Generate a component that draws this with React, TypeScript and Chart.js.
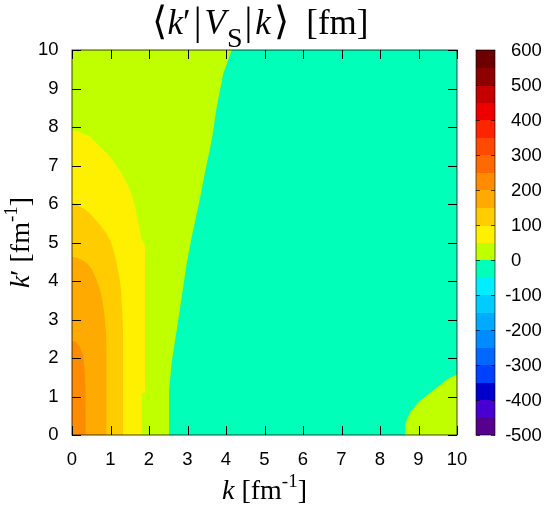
import React, { useEffect, useRef } from 'react';
import { Chart, registerables } from 'chart.js';

Chart.register(...registerables);

// ---- axes ----
const K_TICKS = [0, 1, 2, 3, 4, 5, 6, 7, 8, 9, 10];
const CB_TICKS = [-500, -400, -300, -200, -100, 0, 100, 200, 300, 400, 500, 600];

// ---- colour bar: band edges (fm) and colours, bottom to top ----
const CB_LEVELS = [-500, -450, -400, -350, -300, -250, -200, -150, -100, -50, 0, 50, 100, 150, 200, 250, 300, 350, 400, 450, 500, 550, 600];
const CB_COLORS = [
  '#58008e', '#4800d2', '#0000cc', '#0040ff', '#0068ff', '#008cff', '#00aaff', '#00ccff', '#00eeff', '#00ffb8',
  '#c0ff00', '#fff000', '#ffcc00', '#ffaa00', '#ff8c00', '#ff6a00', '#ff4800', '#ff2400', '#ee0000', '#c40000', '#8e0000', '#6c0000',
];

// ---- contour regions of <k'|V_S|k>: edge points (k, k'), filled down to k' = 0 ----
// whole map background: 0..50 band
const FULL_K = [0, 10];
const FULL_KP = [10, 10];
// -50..0 band (right side)
const AQUA_K = [2.52, 2.52, 2.59, 2.72, 2.85, 2.98, 3.12, 3.28, 3.45, 3.63, 3.76, 3.93, 4.15, 10];
const AQUA_KP = [0, 1.15, 1.9, 2.73, 3.59, 4.46, 5.2, 5.93, 6.8, 7.66, 8.53, 9.39, 10, 10];
// 0..50 band, lower right corner
const CORNER_K = [8.65, 8.65, 8.78, 9.0, 9.26, 9.39, 9.77, 10];
const CORNER_KP = [0, 0.28, 0.58, 0.86, 1.06, 1.17, 1.46, 1.58];
// 50..100 band
const Y50_K = [0, 0.15, 0.47, 0.73, 0.99, 1.29, 1.51, 1.64, 1.72, 1.8, 1.9, 1.9];
const Y50_KP = [7.9, 7.88, 7.75, 7.49, 7.23, 6.8, 6.36, 5.93, 5.5, 5.1, 4.9, 0];
// 0..50 band notch at the bottom of the 50..100 band
const NOTCH_K = [1.81, 1.9];
const NOTCH_KP = [1.1, 1.1];
// 100..150 band
const Y100_K = [0, 0.15, 0.35, 0.5, 0.68, 0.85, 0.99, 1.08, 1.16, 1.23, 1.27, 1.31, 1.33, 1.33];
const Y100_KP = [6.05, 5.97, 5.85, 5.72, 5.52, 5.3, 5.06, 4.8, 4.46, 4.1, 3.77, 3.16, 2.5, 0];
// 150..200 band
const Y150_K = [0, 0.15, 0.3, 0.4, 0.52, 0.64, 0.72, 0.78, 0.84, 0.88, 0.9, 0.9];
const Y150_KP = [4.63, 4.6, 4.52, 4.45, 4.3, 4.03, 3.8, 3.55, 3.15, 2.7, 2.2, 0];
// 200..250 band
const Y200_K = [0, 0.1, 0.2, 0.28, 0.32, 0.35, 0.36, 0.36];
const Y200_KP = [2.45, 2.42, 2.3, 2.1, 1.8, 1.2, 0.6, 0];

const REGIONS: { k: number[]; kp: number[]; level: number }[] = [
  { k: FULL_K, kp: FULL_KP, level: 25 },
  { k: AQUA_K, kp: AQUA_KP, level: -25 },
  { k: CORNER_K, kp: CORNER_KP, level: 25 },
  { k: Y50_K, kp: Y50_KP, level: 75 },
  { k: NOTCH_K, kp: NOTCH_KP, level: 25 },
  { k: Y100_K, kp: Y100_KP, level: 125 },
  { k: Y150_K, kp: Y150_KP, level: 175 },
  { k: Y200_K, kp: Y200_KP, level: 225 },
];

function colorFor(v: number): string {
  for (let i = 0; i < CB_COLORS.length; i++) {
    if (v >= CB_LEVELS[i] && v < CB_LEVELS[i + 1]) return CB_COLORS[i];
  }
  return CB_COLORS[CB_COLORS.length - 1];
}

const SERIF = '"Liberation Serif", "Times New Roman", serif';
const SANS = '"Liberation Sans", Arial, sans-serif';

type Piece = { t: string; font: string; dy?: number; gap?: number };

function drawPieces(ctx: CanvasRenderingContext2D, pieces: Piece[], x: number, y: number, align: 'left' | 'center') {
  let total = 0;
  const widths = pieces.map((p) => {
    ctx.font = p.font;
    const w = ctx.measureText(p.t).width + (p.gap || 0);
    total += w;
    return w;
  });
  let cx = align === 'center' ? x - total / 2 : x;
  ctx.textAlign = 'left';
  ctx.textBaseline = 'alphabetic';
  pieces.forEach((p, i) => {
    ctx.font = p.font;
    ctx.fillText(p.t, cx, y + (p.dy || 0));
    cx += widths[i];
  });
}

const framePlugin = {
  id: 'frame',
  afterDatasetsDraw(chart: any) {
    const { ctx, chartArea: a, scales } = chart;
    const xs = scales.x;
    const ys = scales.y;
    const cb = scales.cb;
    ctx.save();
    // inward tick marks on all four sides
    ctx.strokeStyle = '#000';
    ctx.lineWidth = 1;
    ctx.beginPath();
    for (const v of K_TICKS) {
      const px = Math.round(xs.getPixelForValue(v)) + 0.5;
      ctx.moveTo(px, a.bottom);
      ctx.lineTo(px, a.bottom - 9);
      ctx.moveTo(px, a.top);
      ctx.lineTo(px, a.top + 9);
      const py = Math.round(ys.getPixelForValue(v)) + 0.5;
      ctx.moveTo(a.left, py);
      ctx.lineTo(a.left + 9, py);
      ctx.moveTo(a.right, py);
      ctx.lineTo(a.right - 9, py);
    }
    ctx.stroke();
    ctx.strokeStyle = 'rgba(0,0,0,0.75)';
    ctx.strokeRect(a.left, a.top, a.right - a.left, a.bottom - a.top);

    // colour bar
    const cbL = a.right + 19;
    const cbR = a.right + 38;
    for (let i = 0; i < CB_COLORS.length; i++) {
      const y1 = cb.getPixelForValue(CB_LEVELS[i]);
      const y2 = cb.getPixelForValue(CB_LEVELS[i + 1]);
      ctx.fillStyle = CB_COLORS[i];
      ctx.fillRect(cbL, Math.floor(y2), cbR - cbL, Math.ceil(y1) - Math.floor(y2));
    }
    ctx.strokeStyle = 'rgba(0,0,0,0.7)';
    ctx.beginPath();
    for (const v of CB_TICKS) {
      const py = Math.round(cb.getPixelForValue(v)) + 0.5;
      ctx.moveTo(cbL, py);
      ctx.lineTo(cbL + 4, py);
      ctx.moveTo(cbR, py);
      ctx.lineTo(cbR - 4, py);
    }
    ctx.stroke();
    ctx.strokeStyle = 'rgba(0,0,0,0.6)';
    ctx.strokeRect(cbL, a.top, cbR - cbL, a.bottom - a.top);

    // colour bar labels (digits left-aligned, minus sign hanging)
    ctx.fillStyle = '#000';
    ctx.font = `18.5px ${SANS}`;
    ctx.textBaseline = 'middle';
    const lx = a.right + 54;
    for (const v of CB_TICKS) {
      const py = cb.getPixelForValue(v) + 1;
      ctx.textAlign = 'left';
      ctx.fillText(String(Math.abs(v)), lx, py);
      if (v < 0) {
        ctx.textAlign = 'right';
        ctx.fillText('-', lx + 0.5, py);
      }
    }
    ctx.restore();
  },
  afterDraw(chart: any) {
    const { ctx, chartArea: a } = chart;
    ctx.save();
    ctx.fillStyle = '#000';
    const F = 35;
    const n = `${F}px ${SERIF}`;
    const big = `39px ${SERIF}`;
    const it = `italic ${F}px ${SERIF}`;
    drawPieces(
      ctx,
      [
        { t: '⟨', font: big, gap: 1 },
        { t: 'k', font: it },
        { t: '′', font: n, gap: 3 },
        { t: '|', font: big, gap: 3 },
        { t: 'V', font: it, gap: 1 },
        { t: 'S', font: `28px ${SERIF}`, dy: 13, gap: 2 },
        { t: '|', font: big, gap: 3 },
        { t: 'k', font: it, gap: 3 },
        { t: '⟩', font: big },
        { t: '  [fm]', font: n },
      ],
      260,
      34,
      'center'
    );
    // x axis title
    const A = 28;
    const an = `${A}px ${SERIF}`;
    const ai = `italic ${A}px ${SERIF}`;
    const sup = `19px ${SERIF}`;
    drawPieces(
      ctx,
      [
        { t: 'k', font: ai },
        { t: ' [fm', font: an },
        { t: '-1', font: sup, dy: -12 },
        { t: ']', font: an },
      ],
      (a.left + a.right) / 2,
      499,
      'center'
    );
    // y axis title
    ctx.translate(29, (a.top + a.bottom) / 2);
    ctx.rotate(-Math.PI / 2);
    drawPieces(
      ctx,
      [
        { t: 'k', font: ai },
        { t: '′', font: an },
        { t: ' [fm', font: an },
        { t: '-1', font: sup, dy: -12 },
        { t: ']', font: an },
      ],
      0,
      0,
      'center'
    );
    ctx.restore();
  },
};

export default function App() {
  const ref = useRef<HTMLCanvasElement>(null);
  useEffect(() => {
    const canvas = ref.current;
    if (!canvas) return;
    const datasets = REGIONS.map((r, i) => ({
      data: r.k.map((k, j) => ({ x: k, y: r.kp[j] })),
      showLine: true,
      fill: 'origin',
      backgroundColor: colorFor(r.level),
      borderColor: 'rgba(0,0,0,0)',
      borderWidth: 0,
      pointRadius: 0,
      pointHoverRadius: 0,
      order: REGIONS.length - i,
    }));
    const tickFont = { family: SANS, size: 18.5 };
    const chart = new Chart(canvas, {
      type: 'scatter',
      data: { datasets } as any,
      options: {
        animation: false,
        responsive: false,
        maintainAspectRatio: false,
        devicePixelRatio: 1,
        events: [],
        layout: { padding: { top: 50, left: 0, right: 0, bottom: 0 } },
        plugins: { legend: { display: false }, tooltip: { enabled: false }, title: { display: false } },
        scales: {
          x: {
            type: 'linear',
            position: 'bottom',
            min: 0,
            max: 10,
            ticks: { stepSize: 1, font: tickFont, color: '#000', padding: 14, maxRotation: 0, autoSkip: false },
            grid: { display: false, drawTicks: false },
            border: { display: false },
            afterFit: (s: any) => {
              s.height = 70;
            },
          },
          y: {
            type: 'linear',
            position: 'left',
            min: 0,
            max: 10,
            ticks: { stepSize: 1, font: tickFont, color: '#000', padding: 13.5, autoSkip: false },
            grid: { display: false, drawTicks: false },
            border: { display: false },
            afterFit: (s: any) => {
              s.width = 72;
            },
          },
          cb: {
            type: 'linear',
            position: 'right',
            min: -500,
            max: 600,
            ticks: { display: false, stepSize: 100 },
            grid: { display: false, drawTicks: false },
            border: { display: false },
            afterFit: (s: any) => {
              s.width = 91;
            },
          },
        },
      } as any,
      plugins: [framePlugin],
    });
    return () => chart.destroy();
  }, []);
  return (
    <div style={{ position: 'fixed', left: 0, top: 0, width: 548, height: 505, background: '#fff' }}>
      <canvas ref={ref} width={548} height={505} style={{ width: 548, height: 505, display: 'block' }} />
    </div>
  );
}
